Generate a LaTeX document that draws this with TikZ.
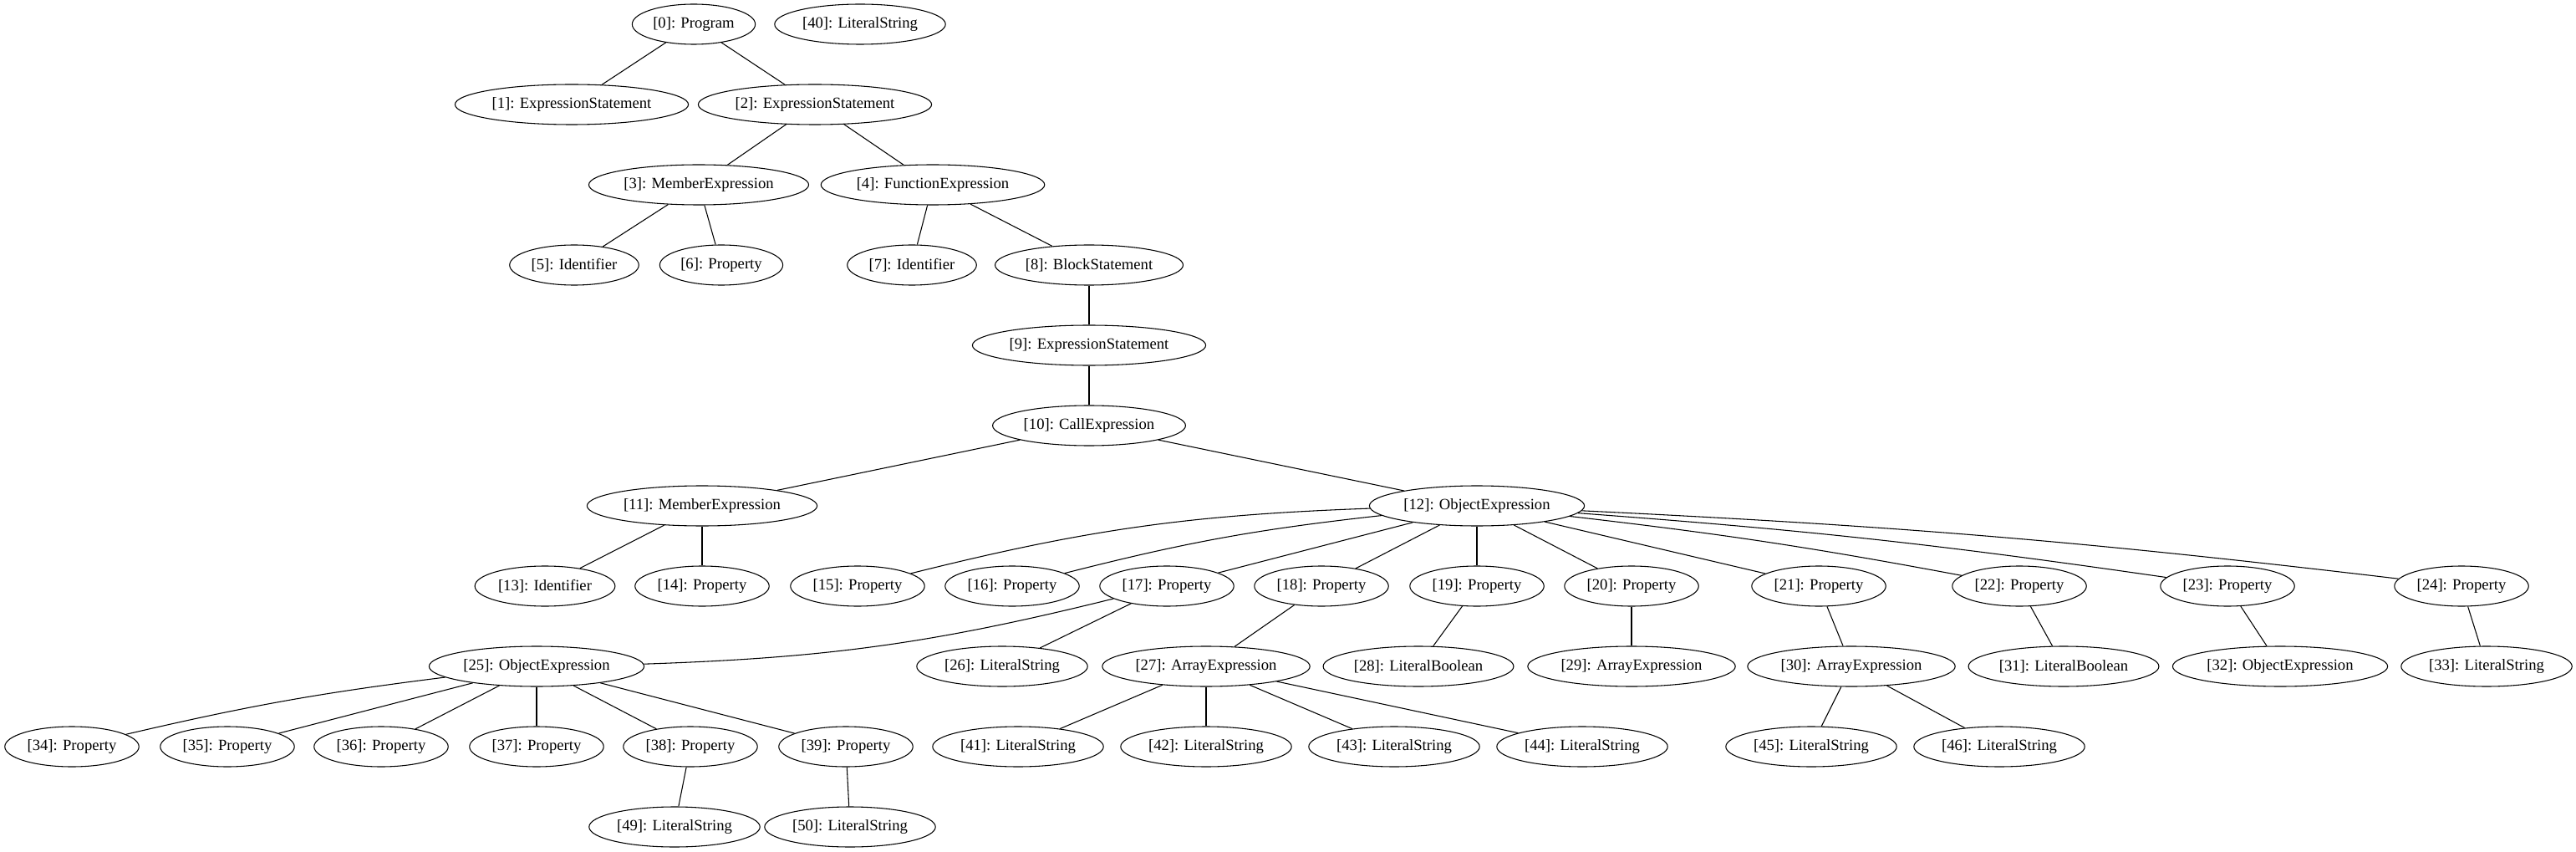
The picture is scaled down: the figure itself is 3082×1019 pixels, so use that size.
\documentclass[tikz,border=0pt]{standalone}
\usepackage{fontspec}
\setmainfont{Liberation Serif}
\usepackage{tikz}
\usetikzlibrary{shapes.geometric}

\begin{document}
\begin{tikzpicture}[
        x=0.75pt, y=-0.75pt,
        astnode/.style={draw, ellipse, line width=0.8pt, inner xsep=2.5pt, inner ysep=2pt, minimum height=36pt, minimum width=54pt, font=\fontsize{14}{16}\selectfont},
        edge/.style={-, line width=0.8pt}
    ]
        \useasboundingbox (0,0) rectangle (3082,1019);

        % Top rows
        \node[astnode] (prog0) at (830, 29) {[0]: Program};
        \node[astnode] (str40) at (1029, 29) {[40]: LiteralString};
        \node[astnode] (stmt1) at (684, 125) {[1]: ExpressionStatement};
        \node[astnode] (stmt2) at (975, 125) {[2]: ExpressionStatement};
        \node[astnode] (member3) at (836, 221) {[3]: MemberExpression};
        \node[astnode] (func4) at (1116, 221) {[4]: FunctionExpression};
        \node[astnode] (ident5) at (687, 317) {[5]: Identifier};
        \node[astnode] (prop6) at (863, 317) {[6]: Property};
        \node[astnode] (ident7) at (1091, 317) {[7]: Identifier};
        \node[astnode] (block8) at (1303, 317) {[8]: BlockStatement};
        \node[astnode] (stmt9) at (1303, 413) {[9]: ExpressionStatement};
        \node[astnode] (call10) at (1303, 509) {[10]: CallExpression};
        \node[astnode] (member11) at (840, 605) {[11]: MemberExpression};
        \node[astnode] (object12) at (1767, 605) {[12]: ObjectExpression};

        % Properties of [12]
        \node[astnode] (ident13) at (652, 701) {[13]: Identifier};
        \node[astnode] (prop14) at (840, 701) {[14]: Property};
        \node[astnode] (prop15) at (1026, 701) {[15]: Property};
        \node[astnode] (prop16) at (1211, 701) {[16]: Property};
        \node[astnode] (prop17) at (1396, 701) {[17]: Property};
        \node[astnode] (prop18) at (1581, 701) {[18]: Property};
        \node[astnode] (prop19) at (1767, 701) {[19]: Property};
        \node[astnode] (prop20) at (1952, 701) {[20]: Property};
        \node[astnode] (prop21) at (2176, 701) {[21]: Property};
        \node[astnode] (prop22) at (2416, 701) {[22]: Property};
        \node[astnode] (prop23) at (2665, 701) {[23]: Property};
        \node[astnode] (prop24) at (2945, 701) {[24]: Property};

        % Values
        \node[astnode] (object25) at (642, 797) {[25]: ObjectExpression};
        \node[astnode] (str26) at (1199, 797) {[26]: LiteralString};
        \node[astnode] (array27) at (1443, 797) {[27]: ArrayExpression};
        \node[astnode] (bool28) at (1697, 797) {[28]: LiteralBoolean};
        \node[astnode] (array29) at (1952, 797) {[29]: ArrayExpression};
        \node[astnode] (array30) at (2215, 797) {[30]: ArrayExpression};
        \node[astnode] (bool31) at (2469, 797) {[31]: LiteralBoolean};
        \node[astnode] (object32) at (2728, 797) {[32]: ObjectExpression};
        \node[astnode] (str33) at (2975, 797) {[33]: LiteralString};

        % Leaves
        \node[astnode] (prop34) at (86, 893) {[34]: Property};
        \node[astnode] (prop35) at (272, 893) {[35]: Property};
        \node[astnode] (prop36) at (456, 893) {[36]: Property};
        \node[astnode] (prop37) at (642, 893) {[37]: Property};
        \node[astnode] (prop38) at (826, 893) {[38]: Property};
        \node[astnode] (prop39) at (1012, 893) {[39]: Property};
        \node[astnode] (str41) at (1218, 893) {[41]: LiteralString};
        \node[astnode] (str42) at (1443, 893) {[42]: LiteralString};
        \node[astnode] (str43) at (1668, 893) {[43]: LiteralString};
        \node[astnode] (str44) at (1893, 893) {[44]: LiteralString};
        \node[astnode] (str45) at (2167, 893) {[45]: LiteralString};
        \node[astnode] (str46) at (2392, 893) {[46]: LiteralString};
        \node[astnode] (str49) at (807, 989) {[49]: LiteralString};
        \node[astnode] (str50) at (1017, 989) {[50]: LiteralString};

        \draw[edge] (prog0) -- (stmt1);
        \draw[edge] (prog0) -- (stmt2);
        \draw[edge] (stmt2) -- (member3);
        \draw[edge] (stmt2) -- (func4);
        \draw[edge] (member3) -- (ident5);
        \draw[edge] (member3) -- (prop6);
        \draw[edge] (func4) -- (ident7);
        \draw[edge] (func4) -- (block8);
        \draw[edge] (block8) -- (stmt9);
        \draw[edge] (stmt9) -- (call10);
        \draw[edge] (call10) -- (member11);
        \draw[edge] (call10) -- (object12);
        \draw[edge] (member11) -- (ident13);
        \draw[edge] (member11) -- (prop14);
        \draw[edge] (object12) to[bend right=6] (prop15);
        \draw[edge] (object12) to[bend right=4] (prop16);
        \draw[edge] (object12) -- (prop17);
        \draw[edge] (object12) -- (prop18);
        \draw[edge] (object12) -- (prop19);
        \draw[edge] (object12) -- (prop20);
        \draw[edge] (object12) -- (prop21);
        \draw[edge] (object12) to[bend left=2] (prop22);
        \draw[edge] (object12) to[bend left=2] (prop23);
        \draw[edge] (object12) to[bend left=2] (prop24);
        \draw[edge] (prop17) to[bend left=6] (object25);
        \draw[edge] (prop17) -- (str26);
        \draw[edge] (prop18) -- (array27);
        \draw[edge] (prop19) -- (bool28);
        \draw[edge] (prop20) -- (array29);
        \draw[edge] (prop21) -- (array30);
        \draw[edge] (prop22) -- (bool31);
        \draw[edge] (prop23) -- (object32);
        \draw[edge] (prop24) -- (str33);
        \draw[edge] (object25) to[bend right=3] (prop34);
        \draw[edge] (object25) -- (prop35);
        \draw[edge] (object25) -- (prop36);
        \draw[edge] (object25) -- (prop37);
        \draw[edge] (object25) -- (prop38);
        \draw[edge] (object25) -- (prop39);
        \draw[edge] (array27) -- (str41);
        \draw[edge] (array27) -- (str42);
        \draw[edge] (array27) -- (str43);
        \draw[edge] (array27) -- (str44);
        \draw[edge] (array30) -- (str45);
        \draw[edge] (array30) -- (str46);
        \draw[edge] (prop38) -- (str49);
        \draw[edge] (prop39) -- (str50);
    \end{tikzpicture}
\end{document}
